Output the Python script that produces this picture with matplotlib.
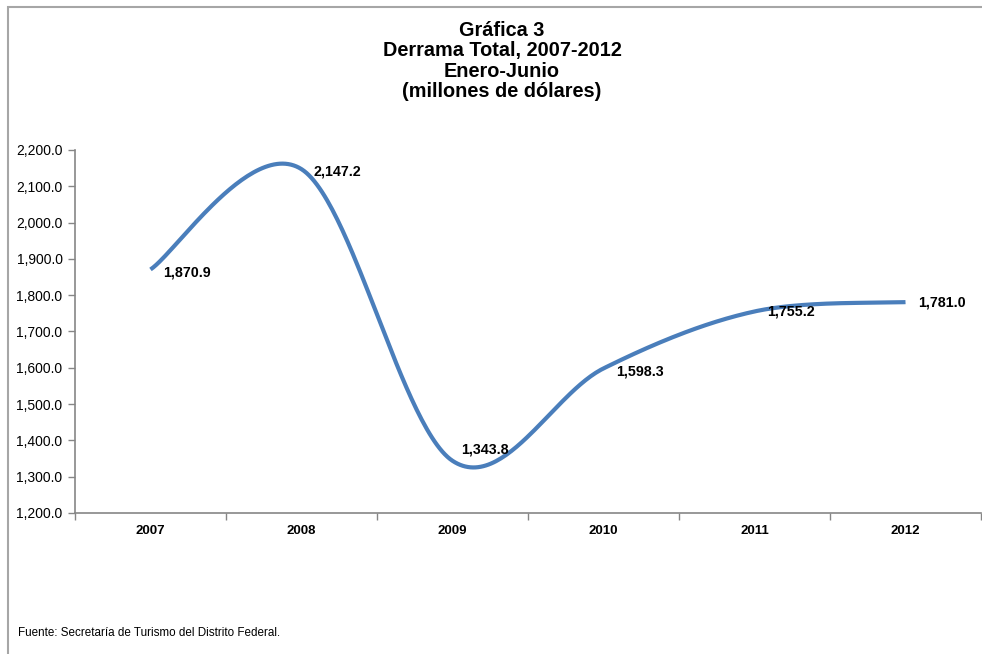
import matplotlib
matplotlib.use("Agg")
import matplotlib.pyplot as plt
import numpy as np
from matplotlib.patches import Rectangle
from matplotlib.ticker import FuncFormatter, FixedLocator

years = ["2007", "2008", "2009", "2010", "2011", "2012"]
values = [1870.9, 2147.2, 1343.8, 1598.3, 1755.2, 1781.0]
title_lines = ["Gráfica 3", "Derrama Total, 2007-2012", "Enero-Junio", "(millones de dólares)"]
source = "Fuente: Secretaría de Turismo del Distrito Federal."

plt.rcParams['font.family'] = ['Liberation Sans', 'DejaVu Sans']

W, H = 982, 654
fig = plt.figure(figsize=(W / 100, H / 100), dpi=100)
fig.patch.set_facecolor("white")

# outer frame (top and left visible)
fig.add_artist(Rectangle((8 / W, -0.05), 1.2, 1 - 7 / H + 0.05, transform=fig.transFigure,
                         fill=False, edgecolor="#a6a6a6", linewidth=1.5))

ax = fig.add_axes([75 / W, 1 - 513 / H, (981 - 75) / W, (513 - 150) / H])

x = np.arange(len(values), dtype=float)
y = np.array(values, dtype=float)

# Excel-like smoothed line (Catmull-Rom Bezier)
pts = np.column_stack([x, y])
curve = []
n = len(pts)
for i in range(n - 1):
    p0 = pts[i]
    p1 = pts[i + 1]
    pm = pts[i - 1] if i > 0 else pts[i]
    pp = pts[i + 2] if i + 2 < n else pts[i + 1]
    c1 = p0 + (p1 - pm) / 6.0
    c2 = p1 - (pp - p0) / 6.0
    t = np.linspace(0, 1, 60)[:, None]
    seg = (1 - t) ** 3 * p0 + 3 * (1 - t) ** 2 * t * c1 + 3 * (1 - t) * t ** 2 * c2 + t ** 3 * p1
    curve.append(seg if i == 0 else seg[1:])
curve = np.vstack(curve)
ax.plot(curve[:, 0], curve[:, 1], color="#4a7ebb", linewidth=3.0, solid_capstyle="butt")

# data labels
offsets = [(9, -2), (9, -2), (6, 8), (9, -2), (9, 0), (9, 0)]
for xi, yi, off in zip(x, y, offsets):
    ax.annotate(f"{yi:,.1f}", (xi, yi), xytext=off, textcoords="offset points",
                ha="left", va="center", fontsize=10.3, fontweight="bold", color="black")

ax.set_xlim(-0.5, len(values) - 0.5)
ax.set_ylim(1200, 2200)
ax.set_yticks(np.arange(1200, 2201, 100))
ax.yaxis.set_major_formatter(FuncFormatter(lambda v, p: f"{v:,.1f}"))
ax.tick_params(axis="y", labelsize=10, length=5, width=1, color="#868686", pad=4)

ax.set_xticks(x)
ax.set_xticklabels(years, fontsize=9.5, fontweight="bold")
ax.xaxis.set_minor_locator(FixedLocator(np.arange(-0.5, len(values), 1.0)))
ax.tick_params(axis="x", which="major", length=0, pad=9)
ax.tick_params(axis="x", which="minor", length=5, width=1, color="#868686")

for s in ["top", "right"]:
    ax.spines[s].set_visible(False)
for s in ["left", "bottom"]:
    ax.spines[s].set_color("#868686")
    ax.spines[s].set_linewidth(1.2)

fig.text(502 / W, 1 - 61 / H, "\n".join(title_lines), ha="center", va="center",
         fontsize=14.3, fontweight="bold", linespacing=1.08)

fig.text(18 / W, 1 - 633 / H, source, ha="left", va="center", fontsize=8.4)

fig.savefig("out.png", dpi=100, facecolor="white")
